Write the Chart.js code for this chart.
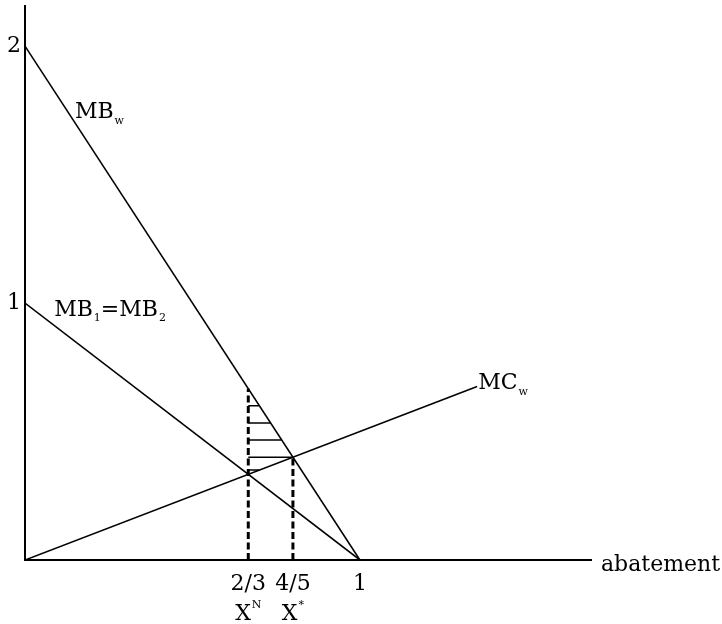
<!DOCTYPE html>
<html>
<head>
<meta charset="utf-8">
<script src="https://cdn.jsdelivr.net/npm/chart.js@4"></script>
<style>
html, body { margin: 0; padding: 0; background: #fff; }
</style>
</head>
<body>
<canvas id="chart" width="722" height="624"></canvas>
<script>
// ticks on the axes
const xTicks = [2/3, 4/5, 1];
const xTickLabels = ['2/3', '4/5', '1'];
const xTickNames = ['X', 'X'];
const xTickMarks = ['N', '*'];
const yTicks = [1, 2];
const yTickLabels = ['1', '2'];

// curves: abatement -> value
const mbWorldX = [0, 1];
const mbWorldY = [2, 0];
const mbEachX = [0, 1];
const mbEachY = [1, 0];
const mcWorldX = [0, 1.35];
const mcWorldY = [0, 0.675];

// hatching between X^N and X*
const hatchLevels = [0.6, 0.533, 0.467, 0.4, 0.35];

const FONT = 'DejaVu Serif';
const BIG = 22;
const SMALL = 11;

function valueAt(xs, ys, x) {
    const t = (x - xs[0]) / (xs[1] - xs[0]);
    return ys[0] + t * (ys[1] - ys[0]);
}

function abatementAt(xs, ys, y) {
    const t = (y - ys[0]) / (ys[1] - ys[0]);
    return xs[0] + t * (xs[1] - xs[0]);
}

function points(xs, ys) {
    return xs.map((x, i) => ({x: x, y: ys[i]}));
}

const nashTop = valueAt(mbWorldX, mbWorldY, xTicks[0]);
const optimumTop = valueAt(mcWorldX, mcWorldY, xTicks[1]);

const hatchPoints = [];
hatchLevels.forEach(level => {
    const end = Math.min(abatementAt(mbWorldX, mbWorldY, level), abatementAt(mcWorldX, mcWorldY, level));
    hatchPoints.push({x: xTicks[0], y: level}, {x: end, y: level}, {x: end, y: null});
});

function line(data, extra) {
    return Object.assign({
        data: data,
        showLine: true,
        borderColor: '#000',
        borderWidth: 1.6,
        pointRadius: 0,
        fill: false,
        tension: 0,
        spanGaps: false
    }, extra || {});
}

// text pieces: [text, small?, dy]
function drawParts(ctx, parts, x, y, align) {
    let total = 0;
    const widths = parts.map(p => {
        ctx.font = (p[1] ? SMALL : BIG) + 'px "' + FONT + '"';
        const w = ctx.measureText(p[0]).width;
        total += w + (p[1] ? 1 : 0);
        return w;
    });
    let cx = align === 'center' ? x - total / 2 : x;
    parts.forEach((p, i) => {
        ctx.font = (p[1] ? SMALL : BIG) + 'px "' + FONT + '"';
        if (p[1]) cx += 1;
        ctx.fillText(p[0], cx, y + p[2]);
        cx += widths[i];
    });
}

const textPlugin = {
    id: 'sketchText',
    afterDraw(chart) {
        const ctx = chart.ctx;
        const xs = chart.scales.x, ys = chart.scales.y;
        const px = v => xs.getPixelForValue(v);
        const py = v => ys.getPixelForValue(v);
        ctx.save();
        ctx.fillStyle = '#000';
        ctx.textBaseline = 'alphabetic';
        ctx.textAlign = 'left';

        let at = 0.14;
        drawParts(ctx, [['MB', 0, 0], ['w', 1, 6]], px(at) + 3, py(valueAt(mbWorldX, mbWorldY, at)), 'left');

        at = 0.087;
        drawParts(ctx, [['MB', 0, 0], ['1', 1, 5], ['=MB', 0, 0], ['2', 1, 5]],
            px(at), py(valueAt(mbEachX, mbEachY, at)) - 9, 'left');

        drawParts(ctx, [['MC', 0, 0], ['w', 1, 6]], px(mcWorldX[1]) + 1, py(mcWorldY[1]) + 2, 'left');

        drawParts(ctx, [['abatement', 0, 0]], xs.right + 10, ys.bottom + 11, 'left');

        xTickNames.forEach((name, i) => {
            drawParts(ctx, [[name, 0, 0], [xTickMarks[i], 1, -12]], px(xTicks[i]), ys.bottom + 60, 'center');
        });
        ctx.restore();
    }
};

new Chart(document.getElementById('chart'), {
    type: 'scatter',
    data: {
        datasets: [
            line(points(mbWorldX, mbWorldY)),
            line(points(mbEachX, mbEachY)),
            line(points(mcWorldX, mcWorldY)),
            line([{x: xTicks[0], y: 0}, {x: xTicks[0], y: nashTop}], {borderWidth: 3, borderDash: [7, 3.5]}),
            line([{x: xTicks[1], y: 0}, {x: xTicks[1], y: optimumTop}], {borderWidth: 3, borderDash: [7, 3.5]}),
            line(hatchPoints, {borderWidth: 1.5})
        ]
    },
    options: {
        responsive: false,
        animation: false,
        layout: {
            padding: {top: 6, right: 131, left: 0, bottom: 0}
        },
        plugins: {
            legend: {display: false},
            tooltip: {enabled: false}
        },
        scales: {
            x: {
                type: 'linear',
                min: 0,
                max: 1.69,
                grid: {display: false, drawTicks: false},
                border: {display: true, color: '#000', width: 2},
                ticks: {
                    color: '#000',
                    font: {family: FONT, size: BIG},
                    padding: 11,
                    maxRotation: 0,
                    autoSkip: false,
                    callback: (value, index) => xTickLabels[index]
                },
                afterBuildTicks: scale => {
                    scale.ticks = xTicks.map(v => ({value: v}));
                },
                afterFit: scale => {
                    scale.height = 64;
                    scale.paddingLeft = 0;
                    scale.paddingRight = 0;
                }
            },
            y: {
                type: 'linear',
                min: 0,
                max: 2.156,
                grid: {display: false, drawTicks: false},
                border: {display: true, color: '#000', width: 2},
                ticks: {
                    color: '#000',
                    font: {family: FONT, size: BIG},
                    padding: 4,
                    autoSkip: false,
                    callback: (value, index) => yTickLabels[index]
                },
                afterBuildTicks: scale => {
                    scale.ticks = yTicks.map(v => ({value: v}));
                },
                afterFit: scale => {
                    scale.width = 25;
                    scale.paddingTop = 0;
                    scale.paddingBottom = 0;
                }
            }
        }
    },
    plugins: [textPlugin]
});
</script>
</body>
</html>
